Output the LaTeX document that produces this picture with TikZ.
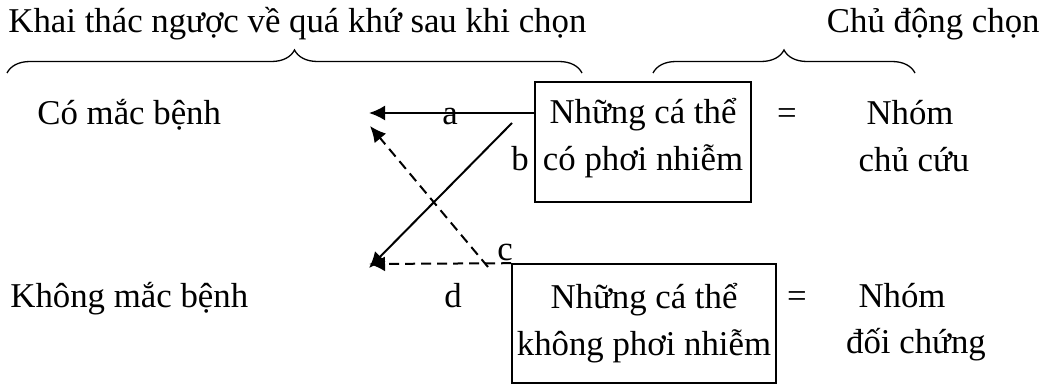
\documentclass[tikz,border=0pt]{standalone}
\usepackage{fontspec}
\setmainfont{Liberation Serif}
\usepackage{tikz}
\usetikzlibrary{arrows.meta, decorations.pathreplacing}
\tikzset{>={Latex[length=8pt, width=7.5pt]}}
\tikzset{
	txt/.style={anchor=base, inner sep=0pt},
	group/.style={draw, line width=.8pt, align=center, inner sep=0pt},
	link/.style={line width=1pt, ->},
	brace/.style={line width=.65pt, decorate, decoration={brace, amplitude=11.5pt}}
}

\begin{document}
\begin{tikzpicture}[x=.5pt, y=-.5pt, every node/.style={font=\fontsize{17.4}{23.5}\selectfont}]
    \useasboundingbox (0, 0) rectangle (1056, 385);
    % braces and headings
    \draw[brace](7, 73)--(582, 73);
    \draw[brace](653, 73)--(915, 73);
    \node[txt, anchor=base west] (past) at (8, 33) {Khai thác ngược về quá khứ sau khi chọn};
    \node[txt, anchor=base east] (act) at (1040, 33) {Chủ động chọn};
    % rows
    \node[txt, anchor=base west] (sick) at (37, 125) {Có mắc bệnh};
    \node[txt, anchor=base west] (well) at (10, 307) {Không mắc bệnh};
    % groups
    \node[group, minimum width=108pt, minimum height=60pt, text height=34pt, text depth=6pt] (exp) at (643, 142) {Những cá thể\\có phơi nhiễm};
    \node[group, minimum width=132pt, minimum height=59.5pt, text height=37.5pt, text depth=6pt] (unexp) at (644, 323.5) {Những cá thể\\không phơi nhiễm};
    \node[txt] (eq1) at (787, 125) {=};
    \node[txt] (eq2) at (797, 307) {=};
    \node[txt] (case1) at (910, 125) {Nhóm};
    \node[txt] (case2) at (914, 172) {chủ cứu};
    \node[txt] (ctrl1) at (902, 307) {Nhóm};
    \node[txt] (ctrl2) at (916, 353) {đối chứng};
    % arrows
    \coordinate (sickA) at (369, 113);
    \coordinate (sickC) at (370, 126);
    \coordinate (wellB) at (369, 268);
    \coordinate (wellD) at (369, 264);
    \coordinate (fromB) at (512, 123);
    \coordinate (fromC) at (488, 267);
    \draw[link](exp.west |- sickA)--(sickA);
    \draw[link](fromB)--(wellB);
    \draw[link, dash pattern=on 5pt off 3pt](fromC)--(sickC);
    \draw[link, dash pattern=on 5pt off 3pt](unexp.north west)--(wellD);
    \node[txt] (la) at (450, 125) {a};
    \node[txt] (lb) at (520, 170) {b};
    \node[txt] (lc) at (505, 261) {c};
    \node[txt] (ld) at (453, 307) {d};
\end{tikzpicture}
\end{document}
